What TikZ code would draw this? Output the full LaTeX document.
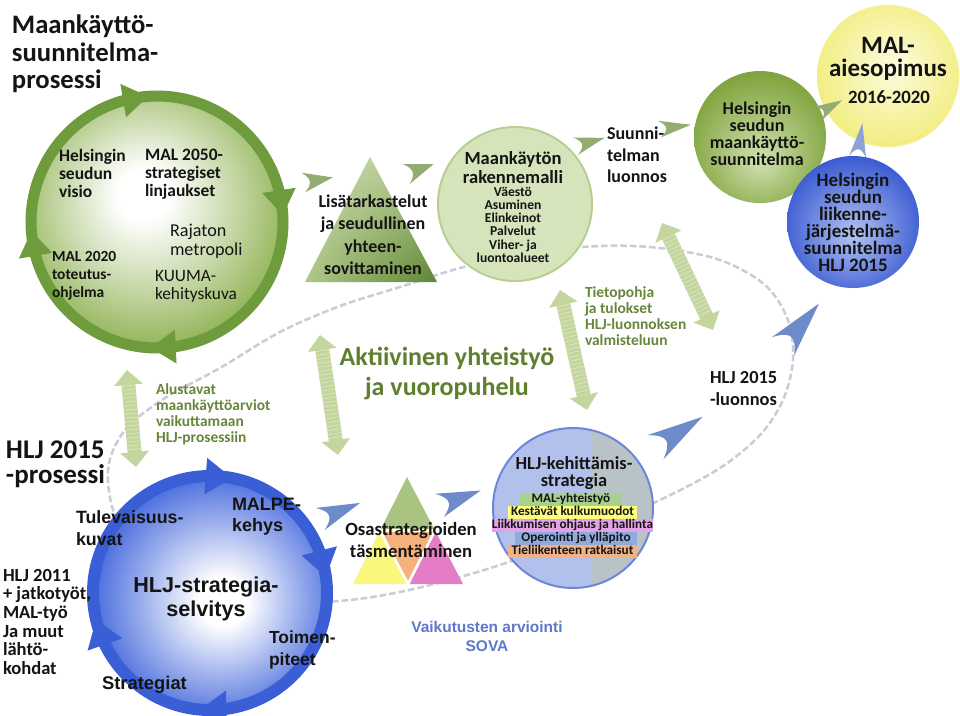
\documentclass[tikz,border=0pt]{standalone}
\usepackage{fontspec}
\setmainfont{Carlito}
\newfontfamily\arialfont{Liberation Sans}
\usetikzlibrary{arrows.meta,bending,shadings}
\definecolor{txtK}{HTML}{141414}
\definecolor{ringG}{HTML}{6E9B3C}
\definecolor{fillG}{HTML}{8FB253}
\definecolor{ringB}{HTML}{3A5ED6}
\definecolor{fillB}{HTML}{3F64DB}
\definecolor{chevG}{HTML}{94AC72}
\definecolor{chevB}{HTML}{6D8BC8}
\definecolor{chevS}{HTML}{8FA2D6}
\definecolor{dblG}{HTML}{C4D69E}
\definecolor{txtG}{HTML}{5E7F2E}
\definecolor{txtG2}{HTML}{66863A}
\definecolor{txtB}{HTML}{5D78CC}
\definecolor{ellC}{HTML}{C9CDD6}
\definecolor{rakF}{HTML}{D6E4BC}
\definecolor{rakE}{HTML}{B9CF92}
\definecolor{hljF}{HTML}{B2C0EC}
\definecolor{hljG}{HTML}{B8C3C8}
\definecolor{hljE}{HTML}{6E86D8}
\definecolor{yelI}{HTML}{FDFCE0}
\definecolor{yelO}{HTML}{F2EE84}
\definecolor{hsmI}{HTML}{D2E2B0}
\definecolor{hsmO}{HTML}{80A43F}
\definecolor{hlbI}{HTML}{B4C3F2}
\definecolor{hlbO}{HTML}{3C5CD2}
\definecolor{triA}{HTML}{A9C381}
\definecolor{triUL}{HTML}{CADCAE}
\definecolor{triUR}{HTML}{B3CA8D}
\definecolor{triLL}{HTML}{AFC788}
\definecolor{triD}{HTML}{5E8434}
\definecolor{triO}{HTML}{F6B07C}
\definecolor{triY}{HTML}{FAF87C}
\definecolor{triP}{HTML}{E57CC6}
\definecolor{hlG}{HTML}{A9D18E}
\definecolor{hlY}{HTML}{FFFF7F}
\definecolor{hlP}{HTML}{E3A3E6}
\definecolor{hlB}{HTML}{8FAADC}
\definecolor{hlO}{HTML}{F4B183}
\pgfdeclareradialshading{gball}{\pgfpoint{-3bp}{6bp}}{color(0bp)=(white); color(5bp)=(white); color(18bp)=(fillG!55!white); color(28bp)=(fillG); color(50bp)=(fillG)}
\pgfdeclareradialshading{bball}{\pgfpoint{3bp}{-2bp}}{color(0bp)=(white); color(5bp)=(white); color(17bp)=(fillB!55!white); color(27bp)=(fillB); color(50bp)=(fillB)}
\pgfdeclareradialshading{hsball}{\pgfpoint{0bp}{-9bp}}{color(0bp)=(hsmI); color(28bp)=(hsmO); color(50bp)=(hsmO)}
\pgfdeclareradialshading{hlball}{\pgfpoint{0bp}{-5bp}}{color(0bp)=(hlbI); color(27bp)=(hlbO); color(50bp)=(hlbO)}
\pgfdeclareradialshading{yball}{\pgfpoint{2bp}{4bp}}{color(0bp)=(yelI); color(26bp)=(yelO); color(50bp)=(yelO)}
\newcommand\fsz[2]{\fontsize{#1}{#2}\selectfont}
\newcommand\chevron[6]{\fill[#6,shift={(#1,#2)},rotate=#3,xscale=#4,yscale=#5] (0.5,0) -- (-0.5,-0.5) .. controls (-0.2,-0.12) and (-0.2,0.12) .. (-0.5,0.5) -- cycle;}
\begin{document}
\begin{tikzpicture}[x=0.75pt,y=-0.75pt,
  every node/.style={inner sep=0pt,outer sep=0pt,text=txtK},
  lbl/.style={anchor=north west,align=left},
  clbl/.style={anchor=north,align=center},
  dblarrow/.style={draw=dblG,line width=10.5pt,{Triangle[width=21pt,length=11.25pt]}-{Triangle[width=21pt,length=11.25pt]}},
  stripes/.style={draw=white,opacity=0.35,line width=10.5pt,dash pattern=on 0.6pt off 2.4pt,shorten <=11.5pt,shorten >=11.5pt},
  ringgreen/.style={draw=ringG,line width=8.25pt,-{Triangle[width=24pt,length=19pt]}},
  ringblue/.style={draw=ringB,line width=9pt,-{Triangle[width=26pt,length=20pt]}},
  hlbar/.style={font=\fsz{9.9}{9.9}\bfseries,minimum height=9.8pt,text height=7.3pt,text depth=2.1pt}
]
\useasboundingbox (0,0) rectangle (960,715);
\fill[white] (0,0) rectangle (960,715);

% dashed ellipse
\draw[ellC,line width=1.9pt,dash pattern=on 5pt off 2.2pt] plot[smooth cycle,tension=0.55] coordinates {(108,470) (125,430) (165,398) (220,368) (280,332) (340,306) (400,287) (460,268) (530,253) (600,246) (660,248) (720,260) (765,285) (788,320) (793,360) (783,400) (760,435) (720,468) (660,500) (590,530) (500,565) (400,592) (320,602) (230,596) (160,568) (118,522)};

% big green cycle
\coordinate (gc) at (157,222);
\shade[shading=gball] (gc) circle[radius=128];
\draw[ringgreen] ([shift={(168:126)}]gc) arc[start angle=168,end angle=266,radius=126];
\draw[ringgreen] ([shift={(258:126)}]gc) arc[start angle=258,end angle=357,radius=126];
\draw[ringgreen] ([shift={(349:126)}]gc) arc[start angle=349,end angle=453,radius=126];
\draw[ringgreen] ([shift={(85:126)}]gc) arc[start angle=85,end angle=176,radius=126];

% big blue cycle
\coordinate (bc) at (210,593);
\shade[shading=bball] (bc) circle[radius=120];
\draw[ringblue] ([shift={(159:117)}]bc) arc[start angle=159,end angle=281,radius=117];
\draw[ringblue] ([shift={(273:117)}]bc) arc[start angle=273,end angle=352,radius=117];
\draw[ringblue] ([shift={(344:117)}]bc) arc[start angle=344,end angle=455,radius=117];
\draw[ringblue] ([shift={(87:117)}]bc) arc[start angle=87,end angle=167,radius=117];

% triangle Lisatarkastelut
\shade[upper left=triUL,upper right=triUR,lower left=triLL,lower right=triD] (370,157) -- (305,282) -- (437,282) -- cycle;

% rakennemalli circle
\coordinate (rc) at (515,204);
\filldraw[fill=rakF,draw=rakE,line width=1.5pt] (rc) circle[radius=77];

% four-part triangle
\coordinate (tA) at (407,477);
\coordinate (tBL) at (353,584);
\coordinate (tBR) at (463,584);
\coordinate (tML) at (380,530.5);
\coordinate (tMR) at (435,530.5);
\coordinate (tMB) at (408,584);
\fill[triA] (tA) -- (tML) -- (tMR) -- cycle;
\fill[triO] (tML) -- (tMR) -- (tMB) -- cycle;
\fill[triY] (tML) -- (tBL) -- (tMB) -- cycle;
\fill[triP] (tMR) -- (tMB) -- (tBR) -- cycle;
\draw[white,line width=2pt,line join=round] (tML) -- (tMR) -- (tMB) -- cycle;

% HLJ-kehittamis circle
\coordinate (hc) at (573,508);
\fill[hljF] (hc) circle[radius=80];
\begin{scope}
\clip (hc) circle[radius=80];
\fill[hljG] (592,420) rectangle (660,600);
\end{scope}
\draw[hljE,line width=1.5pt] (hc) circle[radius=80];

% right-top circles
\coordinate (yc) at (888,76);
\shade[shading=yball] (yc) circle[radius=71];
\coordinate (sc) at (760,137);
\shade[shading=hsball] (sc) circle[radius=66];
\coordinate (lc) at (853,222);
\shade[shading=hlball] (lc) circle[radius=66];

% chevrons
\chevron{318}{180}{10}{30}{20}{chevG}
\chevron{420}{169}{20}{29}{21}{chevG}
\chevron{590}{142}{16}{30}{18}{chevG}
\chevron{675}{127}{8}{32}{17}{chevG}
\chevron{830}{107}{29}{28}{16}{chevG}
\chevron{860}{140}{82}{34}{17}{chevS}
\chevron{340}{511}{22}{43}{24}{chevB}
\chevron{460}{498}{20}{44}{25}{chevB}
\chevron{679}{432}{33}{56}{29}{chevB}
\chevron{801}{325}{50}{56}{29}{chevB}

% double arrows
\coordinate (d1a) at (127,370); \coordinate (d1b) at (136,467);
\coordinate (d2a) at (320,335); \coordinate (d2b) at (338,455);
\coordinate (d3a) at (560,290); \coordinate (d3b) at (587,410);
\coordinate (d4a) at (662,223); \coordinate (d4b) at (713,330);
\foreach \p in {1,2,3,4}{
  \draw[dblarrow] (d\p a) -- (d\p b);
  \draw[stripes] (d\p a) -- (d\p b);
}

% texts
\node[lbl,font=\fsz{20}{20.5}\bfseries] (title) at (12,15) {Maankäyttö-\\suunnitelma-\\prosessi};
\node[lbl,font=\fsz{13.1}{13.6}\bfseries] (visio) at (59,149) {Helsingin\\seudun\\visio};
\node[lbl,font=\fsz{13.1}{13.6}\bfseries] (mal2050) at (145,149) {MAL 2050-\\strategiset\\linjaukset};
\node[lbl,font=\fsz{13.6}{14.2}] (rajaton) at (170,224) {Rajaton\\metropoli};
\node[lbl,font=\fsz{11.6}{13.5}\bfseries] (mal2020) at (52,251) {MAL 2020\\toteutus-\\ohjelma};
\node[lbl,font=\fsz{13}{13.5}] (kuuma) at (155,270) {KUUMA-\\kehityskuva};
\node[lbl,font=\fsz{11.6}{12}\bfseries,text=txtG2] (alustavat) at (156,384) {Alustavat\\maankäyttöarviot\\vaikuttamaan\\HLJ-prosessiin};
\node[lbl,font=\fsz{20.25}{18.6}\bfseries] (hljpros) at (6,441) {HLJ 2015\\-prosessi};
\node[lbl,font=\fsz{13.9}{14}\bfseries] (hlj2011) at (3,569) {HLJ 2011\\+ jatkotyöt,\\MAL-työ\\Ja muut\\lähtö-\\kohdat};
\node[lbl,font=\arialfont\fsz{13.35}{16.5}\bfseries] (tulev) at (76,511) {Tulevaisuus-\\kuvat};
\node[lbl,font=\arialfont\fsz{13.5}{15.75}\bfseries] (malpe) at (232,498) {MALPE-\\kehys};
\node[clbl,font=\arialfont\fsz{16.2}{18}\bfseries] (hljstrat) at (206,577) {HLJ-strategia-\\selvitys};
\node[lbl,font=\arialfont\fsz{13.1}{16.5}\bfseries] (toimen) at (269,631) {Toimen-\\piteet};
\node[lbl,font=\arialfont\fsz{13.8}{16}\bfseries] (strategiat) at (102,676) {Strategiat};
\node[clbl,font=\fsz{13.5}{16.7}\bfseries] (lisa) at (373,195) {Lisätarkastelut\\ja seudullinen\\yhteen-\\sovittaminen};
\node[clbl,font=\fsz{13.9}{14.25}\bfseries] (rakm) at (513,151) {Maankäytön\\rakennemalli};
\node[clbl,font=\fsz{10.2}{9.9}\bfseries] (rakl) at (513,187) {Väestö\\Asuminen\\Elinkeinot\\Palvelut\\Viher- ja\\luontoalueet};
\node[clbl,font=\fsz{19.5}{22.5}\bfseries,text=txtG] (akt) at (447,347) {Aktiivinen yhteistyö\\ja vuoropuhelu};
\node[lbl,font=\fsz{13.5}{16.25}\bfseries] (suun) at (607,127) {Suunni-\\telman\\luonnos};
\node[clbl,font=\fsz{13.5}{12.75}\bfseries] (hsmtxt) at (757,102) {Helsingin\\seudun\\maankäyttö-\\suunnitelma};
\node[clbl,font=\fsz{18.75}{17.2}\bfseries] (malaie) at (888,37) {MAL-\\aiesopimus};
\node[clbl,font=\fsz{14.1}{14}\bfseries] (year) at (889,91) {2016-2020};
\node[clbl,font=\fsz{14.25}{12.75}\bfseries] (hljtxt) at (853,173) {Helsingin\\seudun\\liikenne-\\järjestelmä-\\suunnitelma\\HLJ 2015};
\node[lbl,font=\fsz{11.6}{11.8}\bfseries,text=txtG2] (tieto) at (585,287) {Tietopohja\\ja tulokset\\HLJ-luonnoksen\\valmisteluun};
\node[lbl,font=\fsz{13.8}{16.5}\bfseries] (luonnos) at (710,371) {HLJ 2015\\-luonnos};
\node[clbl,font=\fsz{14}{16.5}\bfseries] (osa) at (411,522) {Osastrategioiden\\täsmentäminen};
\node[clbl,font=\fsz{13.8}{12.75}\bfseries] (hljk) at (574,457) {HLJ-kehittämis-\\strategia};
\node[hlbar,fill=hlG,minimum width=77pt] (hl1) at (571,499.5) {MAL-yhteistyö};
\node[hlbar,fill=hlY,minimum width=97pt] (hl2) at (572.5,512.5) {Kestävät kulkumuodot};
\node[hlbar,fill=hlP,minimum width=121pt] (hl3) at (572.5,525.5) {Liikkumisen ohjaus ja hallinta};
\node[hlbar,fill=hlB,minimum width=91.5pt] (hl4) at (576,538.5) {Operointi ja ylläpito};
\node[hlbar,fill=hlO,minimum width=97pt] (hl5) at (572.5,551.5) {Tieliikenteen ratkaisut};
\node[clbl,font=\arialfont\fsz{11.6}{14.25}\bfseries,text=txtB] (sova) at (487,621) {Vaikutusten arviointi\\SOVA};
\end{tikzpicture}
\end{document}
